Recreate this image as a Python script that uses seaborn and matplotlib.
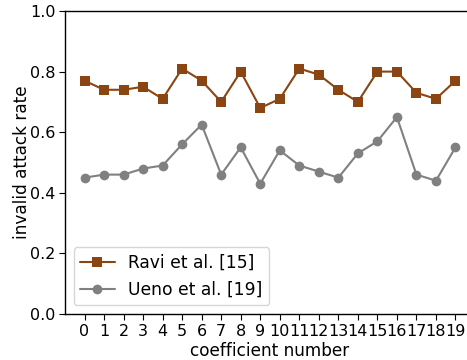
import numpy as np
import pandas as pd
import matplotlib
matplotlib.use("Agg")
import matplotlib.pyplot as plt
import seaborn as sns

coeff = list(range(20))
ravi = [0.77, 0.74, 0.74, 0.75, 0.71, 0.81, 0.77, 0.70, 0.80, 0.68,
        0.71, 0.81, 0.79, 0.74, 0.70, 0.80, 0.80, 0.73, 0.71, 0.77]
ueno = [0.45, 0.46, 0.46, 0.48, 0.49, 0.56, 0.625, 0.46, 0.55, 0.43,
        0.54, 0.49, 0.47, 0.45, 0.53, 0.57, 0.65, 0.46, 0.44, 0.55]
labels = ["Ravi et al. [15]", "Ueno et al. [19]"]

df = pd.DataFrame({
    "coef": coeff * 2,
    "rate": ravi + ueno,
    "method": [labels[0]] * 20 + [labels[1]] * 20,
})

sns.set_style("ticks")
plt.rcParams['font.family'] = ['DejaVu Sans']
for k in ["text.color", "axes.labelcolor", "xtick.color", "ytick.color"]:
    plt.rcParams[k] = "black"

fig = plt.figure(figsize=(4.67, 3.6), dpi=100)
ax = fig.add_axes([65/467, 46/360, (475-65)/467, (314-11)/360])

sns.lineplot(data=df, x="coef", y="rate", hue="method", style="method",
             palette={labels[0]: "#8B4513", labels[1]: "#808080"},
             markers={labels[0]: "s", labels[1]: "o"},
             dashes=False, markersize=7, markeredgewidth=0, linewidth=1.5,
             ax=ax)

ax.set_xlim(-1, 20)
ax.set_ylim(0, 1.0)
ax.set_xticks(coeff)
ax.set_xticklabels([str(c) for c in coeff])
ax.set_yticks([0.0, 0.2, 0.4, 0.6, 0.8, 1.0])
ax.tick_params(axis='both', labelsize=11.5, length=4, pad=3)
ax.set_xlabel("coefficient number", fontsize=12.2, labelpad=2)
ax.set_ylabel("invalid attack rate", fontsize=12.2, labelpad=-1)
for s in ax.spines.values():
    s.set_visible(True)
    s.set_color("black")
    s.set_linewidth(1)
ax.legend(loc="lower left", fontsize=12.3, title=None, frameon=True,
          borderaxespad=0.5)

fig.savefig("out.png", dpi=100)
